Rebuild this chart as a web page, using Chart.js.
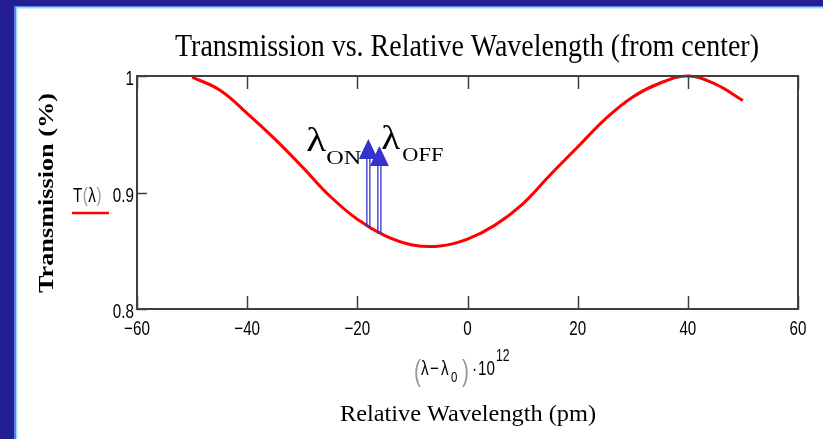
<!DOCTYPE html>
<html>
<head>
<meta charset="utf-8">
<script src="https://cdn.jsdelivr.net/npm/chart.js@4.4.1/dist/chart.umd.min.js"></script>
<style>
  html, body { margin: 0; padding: 0; background: #fff; }
  #wrap { width: 823px; height: 439px; }
</style>
</head>
<body>
<div id="wrap"><canvas id="chart" width="823" height="439"></canvas></div>
<script>
// values
const waveX = [-50, -45, -40, -35, -30, -25, -20, -15, -10, -5, 0, 5, 10, 15, 20, 25, 30, 35, 40, 45, 50];
const transmission = [0.999, 0.988, 0.968, 0.946, 0.922, 0.897, 0.877, 0.863, 0.855, 0.854, 0.860, 0.872, 0.890, 0.915, 0.939, 0.963, 0.982, 0.994, 1.000, 0.993, 0.979];
const xTicks = [-60, -40, -20, 0, 20, 40, 60];
const yTicks = [0.8, 0.9, 1];
const arrowX = [-18, -16];
const arrowBase = [0.871, 0.865];
const arrowTip = [0.946, 0.940];
const arrowNames = ['ON', 'OFF'];

const SERIF = "'Liberation Serif', 'Times New Roman', serif";
const SANS = "'Liberation Sans', Arial, sans-serif";
const NARROW_K = 0.76; // horizontal squeeze for the narrow Mathcad-like font

// draw text squeezed/stretched to a given width
function fitText(ctx, text, x, y, font, width, align) {
    ctx.font = font;
    const w = ctx.measureText(text).width;
    ctx.save();
    ctx.translate(x, y);
    ctx.scale(width / w, 1);
    ctx.textAlign = align || 'center';
    ctx.fillText(text, 0, 0);
    ctx.restore();
}

// narrow text, returns the drawn width
function narrowText(ctx, text, x, y, size, align) {
    ctx.font = size + 'px ' + SANS;
    const w = ctx.measureText(text).width * NARROW_K;
    let x0 = x;
    if (align === 'center') x0 = x - w / 2;
    if (align === 'right') x0 = x - w;
    ctx.save();
    ctx.translate(x0, y);
    ctx.scale(NARROW_K, 1);
    ctx.textAlign = 'left';
    ctx.fillText(text, 0, 0);
    ctx.restore();
    return w;
}

const decor = {
    id: 'decor',
    beforeDraw(chart) {
        const ctx = chart.ctx;
        ctx.save();
        ctx.fillStyle = '#ffffff';
        ctx.fillRect(0, 0, chart.width, chart.height);
        // blue slide frame (left + top)
        ctx.fillStyle = '#231e91';
        ctx.fillRect(0, 0, 14, chart.height);
        ctx.fillRect(0, 0, chart.width, 6);
        ctx.fillStyle = '#5a82e6';
        ctx.fillRect(14, 6, 2, chart.height);
        ctx.fillRect(14, 6, chart.width, 1.5);
        ctx.fillStyle = '#a6dcff';
        ctx.fillRect(16, 7.5, 1.5, chart.height);
        ctx.fillRect(16, 7.5, chart.width, 1);
        ctx.restore();
    },
    afterDatasetsDraw(chart) {
        const ctx = chart.ctx;
        const a = chart.chartArea;
        const xs = chart.scales.x, ys = chart.scales.y;
        ctx.save();

        // plot box
        ctx.strokeStyle = '#404040';
        ctx.lineWidth = 2;
        ctx.strokeRect(a.left, a.top, a.right - a.left, a.bottom - a.top);

        // inward ticks
        ctx.lineWidth = 1.5;
        ctx.beginPath();
        xTicks.forEach(v => {
            const px = Math.round(xs.getPixelForValue(v)) + 0.5;
            ctx.moveTo(px, a.bottom); ctx.lineTo(px, a.bottom - 13);
            ctx.moveTo(px, a.top); ctx.lineTo(px, a.top + 13);
        });
        yTicks.forEach(v => {
            const py = Math.round(ys.getPixelForValue(v)) + 0.5;
            ctx.moveTo(a.left, py); ctx.lineTo(a.left + 10, py);
        });
        ctx.stroke();

        // tick labels
        ctx.fillStyle = '#000';
        ctx.textBaseline = 'alphabetic';
        xTicks.forEach(v => {
            const px = xs.getPixelForValue(v);
            narrowText(ctx, String(v).replace('-', '−'), px, a.bottom + 26, 20, 'center');
        });
        yTicks.forEach(v => {
            const py = ys.getPixelForValue(v);
            narrowText(ctx, String(v), a.left - 3, py + 9, 20, 'right');
        });

        // arrows
        arrowX.forEach((v, i) => {
            const px = xs.getPixelForValue(v);
            const yb = ys.getPixelForValue(arrowBase[i]);
            const yt = ys.getPixelForValue(arrowTip[i]);
            const headH = 20, headW = 19;
            ctx.strokeStyle = '#3535c8';
            ctx.lineWidth = 1.3;
            ctx.strokeRect(px - 1.5, yt + headH - 2, 3, yb - yt - headH + 2);
            ctx.fillStyle = '#3434cc';
            ctx.beginPath();
            ctx.moveTo(px, yt);
            ctx.lineTo(px + headW / 2, yt + headH);
            ctx.lineTo(px - headW / 2, yt + headH);
            ctx.closePath();
            ctx.fill();
        });

        // lambda labels
        ctx.fillStyle = '#000';
        const pOn = xs.getPixelForValue(arrowX[0]);
        const pOff = xs.getPixelForValue(arrowX[1]);
        fitText(ctx, 'λ', pOn - 62, 151, '34px ' + SERIF, 20, 'left');
        fitText(ctx, arrowNames[0], pOn - 42, 164, '18px ' + SERIF, 35, 'left');
        fitText(ctx, 'λ', pOff + 2, 149, '34px ' + SERIF, 19, 'left');
        fitText(ctx, arrowNames[1], pOff + 23, 161, '18px ' + SERIF, 41, 'left');

        ctx.restore();
    },
    afterDraw(chart) {
        const ctx = chart.ctx;
        ctx.save();
        ctx.fillStyle = '#000';
        ctx.textBaseline = 'alphabetic';

        // title
        fitText(ctx, 'Transmission vs. Relative Wavelength (from center)', 467, 56, '32px ' + SERIF, 584, 'center');

        // y title
        ctx.save();
        ctx.translate(53, 193);
        ctx.rotate(-Math.PI / 2);
        fitText(ctx, 'Transmission (%)', 0, 0, 'bold 22px ' + SERIF, 200, 'center');
        ctx.restore();

        // legend entry T(λ) with red line
        let x = 73;
        [['T', '#000'], ['(', '#999'], ['λ', '#000'], [')', '#999']].forEach(p => {
            ctx.fillStyle = p[1];
            x += narrowText(ctx, p[0], x, 202, 20, 'left') + 0.5;
        });
        ctx.strokeStyle = '#ff0000';
        ctx.lineWidth = 2.5;
        ctx.beginPath();
        ctx.moveTo(72, 213); ctx.lineTo(109, 213);
        ctx.stroke();

        // x expression (λ−λ0)·10^12
        ctx.fillStyle = '#999';
        fitText(ctx, '(', 414, 381, '30px ' + SANS, 7, 'left');
        fitText(ctx, ')', 462, 381, '30px ' + SANS, 7, 'left');
        ctx.fillStyle = '#000';
        narrowText(ctx, 'λ', 421, 375, 20, 'left');
        narrowText(ctx, '−', 430, 375, 20, 'left');
        narrowText(ctx, 'λ', 441, 375, 20, 'left');
        narrowText(ctx, '0', 451, 382, 15, 'left');
        narrowText(ctx, '·', 472, 375, 20, 'left');
        narrowText(ctx, '10', 478, 375, 20, 'left');
        narrowText(ctx, '12', 496, 361, 16, 'left');

        // x title
        fitText(ctx, 'Relative Wavelength (pm)', 468, 421, '24px ' + SERIF, 256, 'center');
        ctx.restore();
    }
};

new Chart(document.getElementById('chart'), {
    type: 'line',
    data: {
        datasets: [{
            data: waveX.map((v, i) => ({ x: v, y: transmission[i] })),
            borderColor: '#ff0000',
            borderWidth: 3,
            pointRadius: 0,
            tension: 0.4,
            fill: false,
            clip: false
        }]
    },
    options: {
        responsive: false,
        animation: false,
        layout: { padding: { left: 0, top: 76, right: 25, bottom: 0 } },
        plugins: {
            legend: { display: false },
            title: { display: false },
            tooltip: { enabled: false }
        },
        scales: {
            x: {
                type: 'linear',
                min: -60,
                max: 60,
                afterBuildTicks: s => { s.ticks = xTicks.map(v => ({ value: v })); },
                afterFit: s => { s.height = 130; },
                grid: { display: false },
                border: { display: false },
                ticks: { display: false }
            },
            y: {
                min: 0.8,
                max: 1,
                afterBuildTicks: s => { s.ticks = yTicks.map(v => ({ value: v })); },
                afterFit: s => { s.width = 137; },
                grid: { display: false },
                border: { display: false },
                ticks: { display: false }
            }
        }
    },
    plugins: [decor]
});
</script>
</body>
</html>
